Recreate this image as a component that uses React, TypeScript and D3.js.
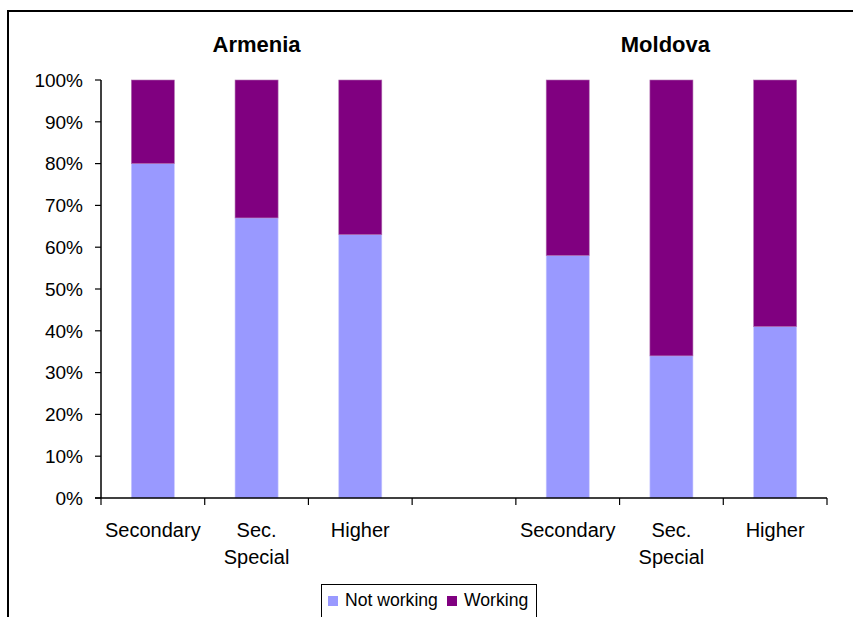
import React from 'react';
import * as d3 from 'd3';

// Education level per country; the empty slot separates the two country groups
const categoryLabels = ['Secondary', 'Sec.\nSpecial', 'Higher', '', 'Secondary', 'Sec.\nSpecial', 'Higher'];
const notWorking: (number | null)[] = [80, 67, 63, null, 58, 34, 41];
const working: (number | null)[] = [20, 33, 37, null, 42, 66, 59];
const yTicks = [0, 10, 20, 30, 40, 50, 60, 70, 80, 90, 100];
const countryTitles = ['Armenia', 'Moldova'];
const seriesNames = ['Not working', 'Working'];

const COLORS = { notWorking: '#9999FF', working: '#800080' };
const FONT = '"Liberation Sans", Arial, sans-serif';

export default function App() {
  const width = 853;
  const height = 617;
  const plot = { left: 101, right: 827, top: 80, bottom: 498 };

  const x = d3
    .scaleBand<number>()
    .domain(d3.range(categoryLabels.length))
    .range([plot.left, plot.right])
    .paddingInner(0)
    .paddingOuter(0);
  const y = d3.scaleLinear().domain([0, 100]).range([plot.bottom, plot.top]);

  const barW = x.bandwidth() * 0.415;
  const stacks = categoryLabels.map((_, i) => {
    const nw = notWorking[i];
    const w = working[i];
    if (nw == null || w == null) return null;
    return { i, nw, w };
  });

  const boundaries = d3.range(categoryLabels.length + 1).map((i) =>
    i < categoryLabels.length ? (x(i) as number) : plot.right
  );

  const titleX = [x(1)! + x.bandwidth() / 2, x(5)! + x.bandwidth() / 2 - 6];

  return (
    <svg
      width={width}
      height={height}
      style={{ position: 'absolute', left: 0, top: 0, background: '#fff', fontFamily: FONT }}
    >
      <rect x={0} y={0} width={width} height={height} fill="#fff" />
      {/* chart frame (top and left edges visible) */}
      <path d={`M8,${height} V11 H${width}`} fill="none" stroke="#000" strokeWidth={2} />

      {countryTitles.map((t, k) => (
        <text key={t} x={titleX[k]} y={52} textAnchor="middle" fontSize={22} fontWeight="bold" fill="#000">
          {t}
        </text>
      ))}

      {/* stacked bars */}
      {stacks.map((s) => {
        if (!s) return null;
        const cx = (x(s.i) as number) + x.bandwidth() / 2;
        return (
          <g key={s.i}>
            <rect
              x={cx - barW / 2}
              y={y(s.nw)}
              width={barW}
              height={y(0) - y(s.nw)}
              fill={COLORS.notWorking}
              stroke="#c8c8ff"
              strokeWidth={0.6}
            />
            <rect
              x={cx - barW / 2}
              y={y(s.nw + s.w)}
              width={barW}
              height={y(s.nw) - y(s.nw + s.w)}
              fill={COLORS.working}
              stroke="#b070b0"
              strokeWidth={0.6}
            />
          </g>
        );
      })}

      {/* y axis */}
      <line x1={plot.left} x2={plot.left} y1={plot.top} y2={plot.bottom} stroke="#000" strokeWidth={1.5} />
      {yTicks.map((t) => (
        <g key={t}>
          <line x1={plot.left - 6} x2={plot.left} y1={y(t)} y2={y(t)} stroke="#000" strokeWidth={1.2} />
          <text x={83} y={y(t)} dy="0.36em" textAnchor="end" fontSize={19} fill="#000">
            {t}%
          </text>
        </g>
      ))}

      {/* x axis */}
      <line x1={plot.left - 6} x2={plot.right} y1={plot.bottom} y2={plot.bottom} stroke="#000" strokeWidth={1.5} />
      {boundaries.map((bx, i) => (
        <line key={i} x1={bx} x2={bx} y1={plot.bottom} y2={plot.bottom + 7} stroke="#000" strokeWidth={1.2} />
      ))}
      {categoryLabels.map((lab, i) => {
        const cx = (x(i) as number) + x.bandwidth() / 2;
        return (
          <text key={i} x={cx} y={537} textAnchor="middle" fontSize={20} fill="#000">
            {lab.split('\n').map((line, j) => (
              <tspan key={j} x={cx} dy={j === 0 ? 0 : 27}>
                {line}
              </tspan>
            ))}
          </text>
        );
      })}

      {/* legend */}
      <rect x={321.5} y={584.5} width={215} height={40} fill="#fff" stroke="#000" strokeWidth={1} />
      <rect x={328} y={596} width={10} height={10} fill={COLORS.notWorking} />
      <text x={345} y={606} fontSize={17.6} fill="#000">
        {seriesNames[0]}
      </text>
      <rect x={447} y={596} width={10} height={10} fill={COLORS.working} />
      <text x={464} y={606} fontSize={17.6} fill="#000">
        {seriesNames[1]}
      </text>
    </svg>
  );
}
